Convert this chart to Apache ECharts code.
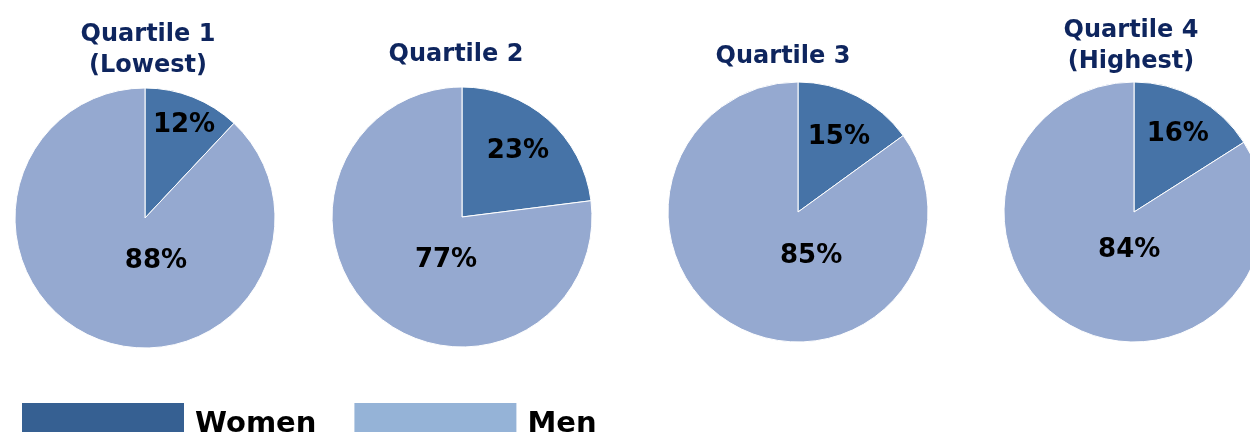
<!DOCTYPE html>
<html>
<head>
<meta charset="utf-8">
<script src="https://cdn.jsdelivr.net/npm/echarts@6/dist/echarts.min.js"></script>
<style>
  html, body { margin: 0; padding: 0; background: #fff; }
  #chart { width: 1250px; height: 432px; }
</style>
</head>
<body>
<div id="chart"></div>
<script>
// data
const quartiles = ['Quartile 1\n(Lowest)', 'Quartile 2', 'Quartile 3', 'Quartile 4\n(Highest)'];
const women = [12, 23, 15, 16];
const men = [88, 77, 85, 84];
const groups = ['Women', 'Men'];

// layout (pixels)
const centers = [[145, 218], [462, 217], [798, 212], [1134, 212]];
const titleTops = [14, 34, 36, 10];
const titleX = [143, 451, 778, 1126];
// label nudges from the default 'inside' spot, like Excel's best fit
const womenOffset = [[14, -30], [11, -15], [10, -14], [11, -18]];
const menOffset = [[36, -20], [29, -8], [44, -16], [28, -21]];

const pieColors = ['#4673A7', '#95A9D0'];
const legendColors = ['#366092', '#95B3D7'];
const font = '"DejaVu Sans", Verdana, sans-serif';

let chart = echarts.init(document.getElementById('chart'));

let titles = quartiles.map(function (q, i) {
    return {
        text: q,
        left: titleX[i],
        top: titleTops[i],
        textAlign: 'center',
        textStyle: {
            color: '#0E255E',
            fontFamily: font,
            fontWeight: 'bold',
            fontSize: 24,
            lineHeight: 31
        }
    };
});

let series = quartiles.map(function (q, i) {
    return {
        name: q,
        type: 'pie',
        center: centers[i],
        radius: 130,
        startAngle: 90,
        clockwise: true,
        animation: false,
        silent: true,
        itemStyle: {
            borderColor: '#ffffff',
            borderWidth: 1
        },
        label: {
            show: true,
            position: 'inside',
            formatter: '{c}%',
            color: '#000',
            fontFamily: font,
            fontWeight: 'bold',
            fontSize: 26
        },
        labelLine: { show: false },
        data: [
            { name: groups[0], value: women[i], itemStyle: { color: pieColors[0] }, label: { offset: womenOffset[i] } },
            { name: groups[1], value: men[i], itemStyle: { color: pieColors[1] }, label: { offset: menOffset[i] } }
        ]
    };
});

let option = {
    backgroundColor: '#ffffff',
    title: titles,
    legend: {
        left: 15,
        top: 396,
        orient: 'horizontal',
        icon: 'rect',
        itemWidth: 164,
        itemHeight: 44,
        itemGap: 36,
        selectedMode: false,
        textStyle: {
            color: '#000',
            fontFamily: font,
            fontWeight: 'bold',
            fontSize: 29,
            padding: [4, 0, 0, 5]
        },
        data: groups.map(function (g, i) {
            return { name: g, itemStyle: { color: legendColors[i] } };
        })
    },
    series: series
};

chart.setOption(option);
window.addEventListener('resize', function () {
    chart.resize();
});
</script>
</body>
</html>
